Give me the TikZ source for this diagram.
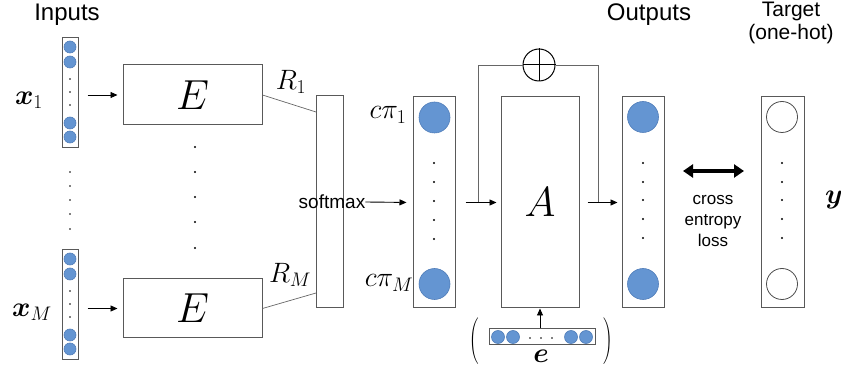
\RequirePackage{fix-cm}
\documentclass[tikz,border=0pt]{standalone}
\usepackage[no-math]{fontspec}
\setmainfont{Liberation Sans}
\usepackage{bm}
\usepackage{graphicx}
\usepackage{tikz}
\usetikzlibrary{positioning,arrows.meta}
\definecolor{unitblue}{RGB}{100,149,210}
\definecolor{unitedge}{RGB}{80,125,185}
\tikzset{%
  blk/.style={draw=black!65,line width=1pt,inner sep=0pt},
  neuron/.style={circle,fill=unitblue,draw=unitedge,line width=0.6pt,inner sep=0pt,minimum size=#1},
  hollow/.style={circle,fill=white,draw=black!70,line width=0.8pt,inner sep=0pt,minimum size=#1},
  wire/.style={draw=black!60,line width=0.7pt},
  arr/.style={-{Triangle[length=7pt,width=6pt]},line width=0.9pt},
  dbl/.style={{Triangle[length=10pt,width=13pt]}-{Triangle[length=10pt,width=13pt]},line width=4pt},
  hd/.style={font=\fontsize{24}{28}\selectfont,inner sep=0pt},
  sf/.style={font=\fontsize{19}{22}\selectfont,inner sep=0pt},
  tf/.style={font=\fontsize{21}{23}\selectfont,inner sep=0pt,align=center},
  lossf/.style={font=\fontsize{17}{21}\selectfont,inner sep=0pt,align=center},
  mth/.style={font=\fontsize{28}{32}\selectfont,inner sep=0pt},
  bigm/.style={font=\fontsize{42}{46}\selectfont},
  paren/.style={inner sep=0pt}
}

\begin{document}
\begin{tikzpicture}[x=1pt,y=-1pt]
  \useasboundingbox (0,0) rectangle (841,371);

  % inputs
  \node[hd] (inputs) at (67,15) {Inputs};
  \foreach \n/\yt/\lx in {1/38/29, M/250/32}{
    \node[blk,minimum width=16pt,minimum height=110pt] (x\n) at (70,\yt+55) {};
    \foreach \yy in {9,24,85,99}
      \node[neuron=12pt] at (70,\yt+\yy) {};
    \foreach \yy in {41,54,67}
      \fill (70,\yt+\yy) circle (0.9);
    \node[mth] (xl\n) at (\lx,\yt+62) {$\bm{x}_\n$};
  }
  \foreach \yy in {172,186,200,214,229}
    \fill (70,\yy) circle (0.9);

  % encoders
  \node[blk,bigm,minimum width=139pt,minimum height=60pt] (E1) at (192.5,95) {$E$};
  \node[blk,bigm,minimum width=139pt,minimum height=59pt] (EM) at (192.5,308.5) {$E$};
  \foreach \yy in {147,172,197,222,248}
    \fill (195,\yy) circle (1.1);
  \draw[arr,shorten <=9pt,shorten >=5pt] (x1.east |- E1.west) -- (E1.west);
  \draw[arr,shorten <=9pt,shorten >=5pt] (xM.east |- EM.west) -- (EM.west);

  % softmax
  \node[blk,minimum width=27pt,minimum height=212pt] (sm) at (329.5,202) {};
  \node[sf] (smt) at (332,202) {softmax};
  \coordinate (r1) at (316,112);
  \coordinate (rM) at (316,293);
  \draw[wire] (E1.east) -- (r1);
  \draw[wire] (EM.east) -- (rM);
  \node[mth] (R1) at (291,82) {$R_1$};
  \node[mth] (RM) at (290,275) {$R_M$};

  % weights
  \node[blk,minimum width=42pt,minimum height=211pt] (pi) at (434,202.5) {};
  \node[neuron=31pt] (p1) at (434.5,117.5) {};
  \node[neuron=31pt] (pM) at (434.5,284) {};
  \foreach \yy in {163,182,201,220,239}
    \fill (434,\yy) circle (1.1);
  \node[mth] (pl1) at (388,115) {$c\pi_1$};
  \node[mth] (plM) at (389,283) {$c\pi_M$};
  \draw[arr,shorten >=6pt] (smt.east) -- (pi.west);

  % outputs
  \node[blk,minimum width=42pt,minimum height=211pt] (out) at (643,202.5) {};
  \node[neuron=31pt] (o1) at (643,117) {};
  \node[neuron=31pt] (oM) at (643,284) {};
  \foreach \yy in {163,182,200,219,238}
    \fill (643,\yy) circle (1.1);
  \node[hd] (outputs) at (649,15) {Outputs};

  % A and skip
  \node[blk,bigm,minimum width=78pt,minimum height=211pt] (A) at (540,202.5) {$A$};
  \draw[arr,shorten <=10pt,shorten >=4pt] (pi.east) -- (A.west);
  \draw[arr,shorten <=8pt,shorten >=4pt] (A.east) -- (out.west);
  \coordinate (sl) at (478,202.5);
  \coordinate (sr) at (598,202.5);
  \node[circle,draw,line width=1pt,minimum size=32pt,inner sep=0pt] (sum) at (539,65) {};
  \draw[line width=1pt] (sum.north) -- (sum.south) (sum.west) -- (sum.east);
  \draw[wire] (sl) |- (sum.west);
  \draw[wire] (sum.east) -| (sr);

  % e
  \node[blk,minimum width=106pt,minimum height=16pt] (ev) at (542,337) {};
  \foreach \xx in {498,513,571,586}
    \node[neuron=13pt] at (\xx,337) {};
  \foreach \xx in {530,541,552}
    \fill (\xx,338) circle (0.9);
  \node[mth] (el) at (541,356) {$\bm{e}$};
  \draw[arr] (A.south |- ev.north) -- (A.south);
  \node[paren] (lp) at (474,341) {\scalebox{1.2}[1.55]{$\Bigg($}};
  \node[paren] (rp) at (608,341) {\scalebox{1.2}[1.55]{$\Bigg)$}};

  % target
  \node[blk,minimum width=43pt,minimum height=211pt] (tgt) at (782.5,202.5) {};
  \node[hollow=31pt] (t1) at (782,117) {};
  \node[hollow=31pt] (tM) at (782,284) {};
  \foreach \yy in {163,182,200,219,238}
    \fill (782,\yy) circle (1.1);
  \node[tf] (target) at (791,23) {Target\\(one-hot)};
  \node[mth] (yl) at (834,200) {$\bm{y}$};

  % loss
  \coordinate (la) at (683,171);
  \coordinate (lb) at (744,171);
  \draw[dbl] (la) -- (lb);
  \node[lossf] (loss) at (713,221) {cross\\entropy\\loss};
\end{tikzpicture}
\end{document}
